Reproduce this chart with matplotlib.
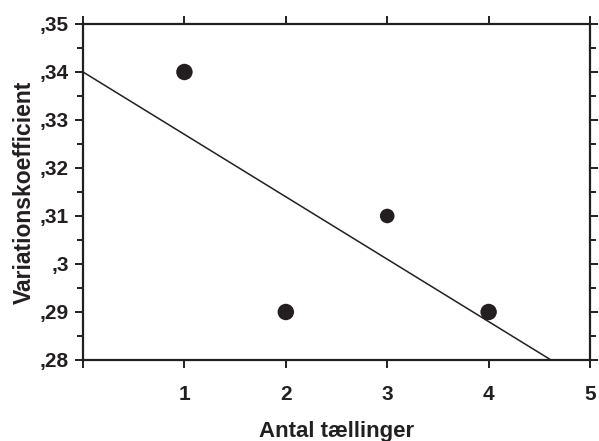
import numpy as np
import matplotlib
matplotlib.use('Agg')
import matplotlib.pyplot as plt
from matplotlib.ticker import FuncFormatter, MultipleLocator

# data
antal = [1, 2, 3, 4]
variation = [0.34, 0.29, 0.31, 0.29]

plt.rcParams['font.family'] = ['Liberation Sans', 'DejaVu Sans']

fig = plt.figure(figsize=(5.99, 4.41), dpi=100)
ax = fig.add_axes([0.1386, 0.1837, 0.985 - 0.1386, 0.9456 - 0.1837])

# linear fit line
slope, icpt = np.polyfit(antal, variation, 1)
xs = np.array([0, 5])
ax.plot(xs, icpt + slope * xs, color='#231f20', lw=1.1, zorder=2)

ax.scatter(antal, variation, s=[140, 140, 110, 140], color='#231f20', zorder=3, linewidths=0)

ax.set_xlim(0, 5)
ax.set_ylim(0.28, 0.35)
ax.set_xticks([0, 1, 2, 3, 4, 5])
ax.set_xticklabels(['', '1', '2', '3', '4', '5'])
ax.yaxis.set_major_locator(MultipleLocator(0.01))
ax.yaxis.set_minor_locator(MultipleLocator(0.005))

def fmt(v, pos):
    s = f"{v:.2f}".rstrip('0').lstrip('0')
    return s.replace('.', ',')

ax.yaxis.set_major_formatter(FuncFormatter(fmt))

for sp in ax.spines.values():
    sp.set_linewidth(1.6)
    sp.set_color('#231f20')

ax.tick_params(which='both', direction='out', top=True, right=True, color='#231f20', width=1.4)
ax.tick_params(which='major', length=6, labelsize=15, pad=4)
ax.tick_params(which='minor', length=4)
ax.tick_params(axis='x', pad=12)
for lab in ax.get_xticklabels() + ax.get_yticklabels():
    lab.set_fontweight('bold')
    lab.set_color('#231f20')

ax.set_xlabel('Antal tællinger', fontsize=16, fontweight='bold', color='#231f20', labelpad=12)
ax.set_ylabel('Variationskoefficient', fontsize=16.5, fontweight='bold', color='#231f20', labelpad=3)

plt.savefig('out.png', dpi=100)
plt.close()
